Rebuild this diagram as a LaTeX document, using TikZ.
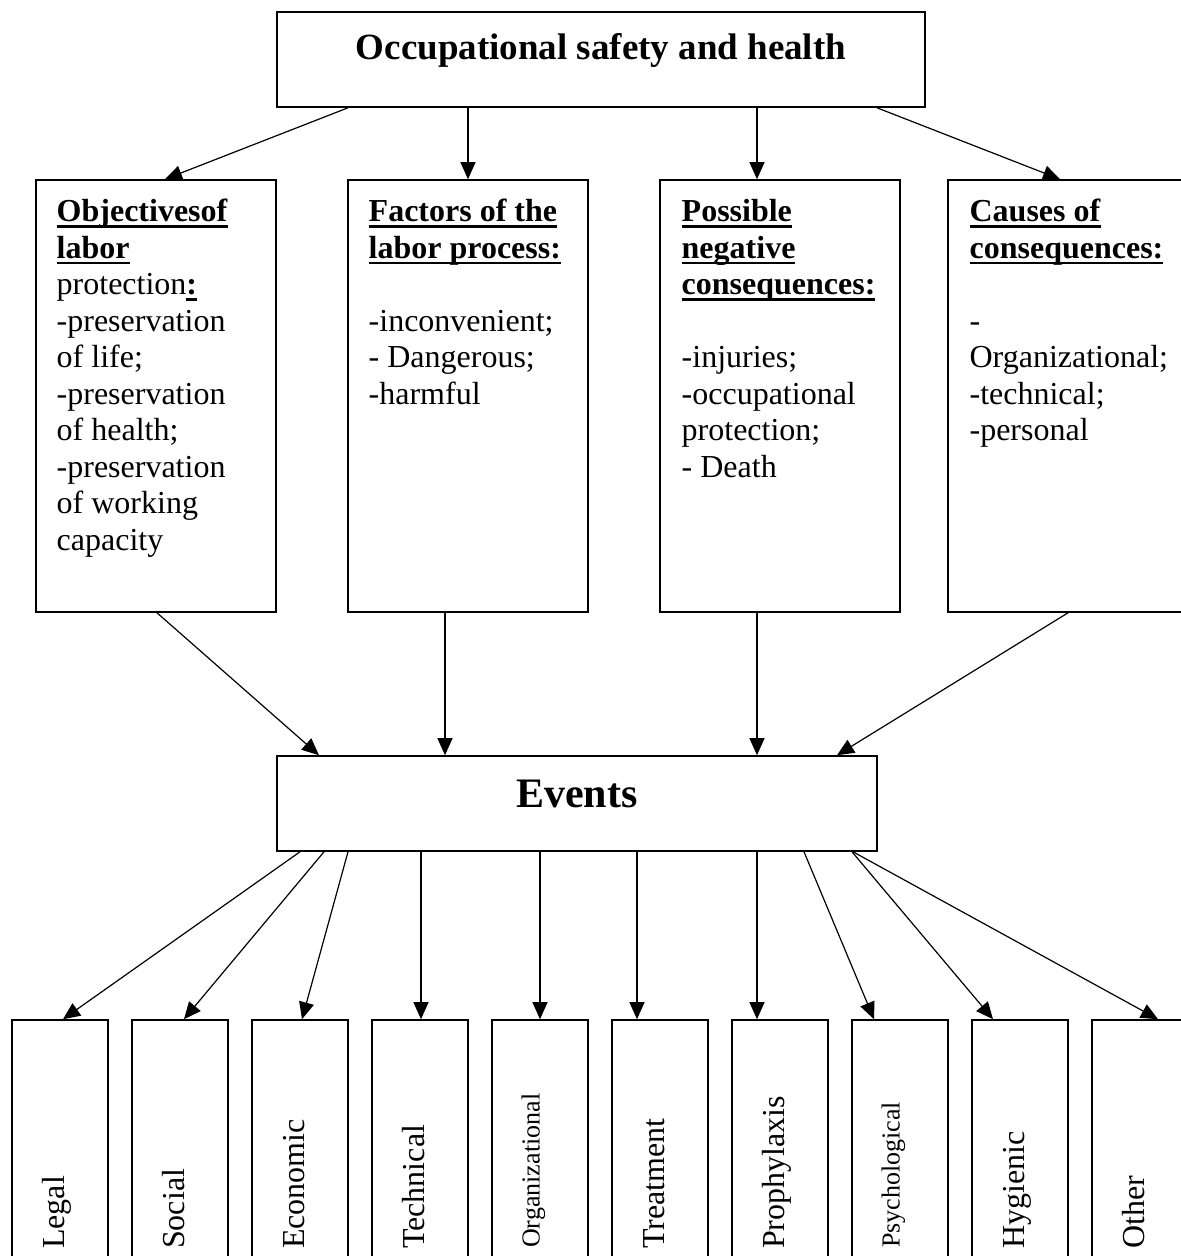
\documentclass[tikz,border=0pt]{standalone}
\usepackage{fontspec}
\setmainfont{Liberation Serif}
\usetikzlibrary{arrows.meta}
\newsavebox{\myulbox}
\newcommand{\myul}[1]{\sbox{\myulbox}{#1}\rlap{\rule[-6pt]{\wd\myulbox}{2.6pt}}\usebox{\myulbox}}
\begin{document}
\begin{tikzpicture}[x=1pt,y=-1pt,
  box/.style={draw, line width=1.6pt, rectangle, inner sep=0pt},
  arr/.style={line width=1.2pt, -{Triangle[length=17pt,width=15pt]}},
  body/.style={font=\fontsize{32}{36.5}\selectfont, align=left, inner sep=0pt, anchor=north west},
  vlab/.style={font=\fontsize{32}{36.5}\selectfont, rotate=90, anchor=base west, inner sep=0pt},
  vsmall/.style={font=\fontsize{26}{30}\selectfont, rotate=90, anchor=base west, inner sep=0pt},
  bigbox/.style={box, minimum width=240pt, minimum height=432pt},
  smallbox/.style={box, minimum width=96pt, minimum height=250pt}]
\useasboundingbox (0,0) rectangle (1181,1256);
\fill[white] (0,0) rectangle (1181,1256);
\clip (0,0) rectangle (1181,1256);

% top box
\node[box, minimum width=648pt, minimum height=95pt, text height=47pt, text depth=48pt,
      font=\fontsize{37}{42}\selectfont\bfseries] (top) at (601,59.5) {Occupational safety and health};

% four boxes
\node[bigbox] (b1) at (156,396) {};
\node[bigbox] (b2) at (468,396) {};
\node[bigbox] (b3) at (780,396) {};
\node[bigbox] (b4) at (1068,396) {};

\node[body] (t1) at (56.5,196.2) {\strut\myul{\textbf{Objectivesof}}\\
\myul{\textbf{labor}}\\
protection\myul{\textbf{:}}\\
-preservation\\
of life;\\
-preservation\\
of health;\\
-preservation\\
of working\\
capacity};

\node[body] (t2) at (368.5,196.2) {\strut\myul{\textbf{Factors of the}}\\
\myul{\textbf{labor process:}}\\[36.5pt]
-inconvenient;\\
- Dangerous;\\
-harmful};

\node[body] (t3) at (681.5,196.2) {\strut\myul{\textbf{Possible}}\\
\myul{\textbf{negative}}\\
\myul{\textbf{consequences:}}\\[36.5pt]
-injuries;\\
-occupational\\
protection;\\
- Death};

\node[body] (t4) at (969.4,196.2) {\strut\myul{\textbf{Causes of}}\\
\myul{\textbf{consequences:}}\\[36.5pt]
-\\
Organizational;\\
-technical;\\
-personal};

% events
\node[box, minimum width=600pt, minimum height=95pt, text height=51pt, text depth=44pt,
      font=\fontsize{42}{48}\selectfont\bfseries] (ev) at (577,803.5) {Events};

% bottom boxes
\node[smallbox] (e1) at (60,1145) {};
\node[smallbox] (e2) at (180,1145) {};
\node[smallbox] (e3) at (300,1145) {};
\node[smallbox] (e4) at (420,1145) {};
\node[smallbox] (e5) at (540,1145) {};
\node[smallbox] (e6) at (660,1145) {};
\node[smallbox] (e7) at (780,1145) {};
\node[smallbox] (e8) at (900,1145) {};
\node[smallbox] (e9) at (1020,1145) {};
\node[smallbox] (e10) at (1140,1145) {};

\node[vlab] (l1) at (64,1249) {Legal};
\node[vlab] (l2) at (184,1249) {Social};
\node[vlab] (l3) at (304,1249) {Economic};
\node[vlab] (l4) at (424,1249) {Technical};
\node[vsmall] (l5) at (539.5,1248) {Organizational};
\node[vlab] (l6) at (664,1249) {Treatment};
\node[vlab] (l7) at (784,1249) {Prophylaxis};
\node[vsmall] (l8) at (899.5,1248) {Psychological};
\node[vlab] (l9) at (1024,1249) {Hygienic};
\node[vlab] (l10) at (1144,1249) {Other};

% arrows top -> boxes
\draw[arr] ([xshift=-253pt]top.south) -- ([xshift=9pt]b1.north);
\draw[arr] ([xshift=-133pt]top.south) -- (b2.north);
\draw[arr] ([xshift=156pt]top.south) -- ([xshift=-23pt]b3.north);
\draw[arr] ([xshift=276pt]top.south) -- ([xshift=-8pt]b4.north);

% boxes -> events
\draw[arr] ([xshift=1pt]b1.south) -- ([xshift=-258pt]ev.north);
\draw[arr] ([xshift=-23pt]b2.south) -- ([xshift=-132pt]ev.north);
\draw[arr] ([xshift=-23pt]b3.south) -- ([xshift=180pt]ev.north);
\draw[arr] (b4.south) -- ([xshift=260pt]ev.north);

% events -> bottom boxes
\draw[arr] ([xshift=-277pt]ev.south) -- ([xshift=3pt]e1.north);
\draw[arr] ([xshift=-253pt]ev.south) -- ([xshift=4pt]e2.north);
\draw[arr] ([xshift=-229pt]ev.south) -- ([xshift=2pt]e3.north);
\draw[arr] ([xshift=-156pt]ev.south) -- ([xshift=1pt]e4.north);
\draw[arr] ([xshift=-37pt]ev.south) -- (e5.north);
\draw[arr] ([xshift=60pt]ev.south) -- ([xshift=-23pt]e6.north);
\draw[arr] ([xshift=180pt]ev.south) -- ([xshift=-23pt]e7.north);
\draw[arr] ([xshift=227pt]ev.south) -- ([xshift=-26pt]e8.north);
\draw[arr] ([xshift=275pt]ev.south) -- ([xshift=-27pt]e9.north);
\draw[arr] ([xshift=276pt]ev.south) -- ([xshift=18pt]e10.north);
\end{tikzpicture}
\end{document}
